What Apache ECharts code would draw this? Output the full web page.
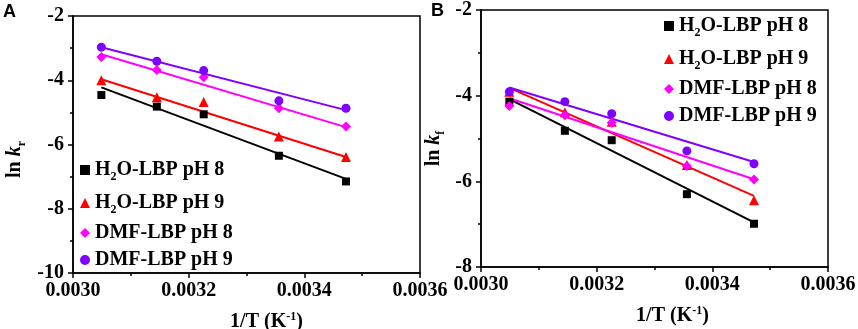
<!DOCTYPE html>
<html>
<head>
<meta charset="utf-8">
<script src="https://cdn.jsdelivr.net/npm/echarts@6/dist/echarts.min.js"></script>
<style>
  html, body { margin: 0; padding: 0; background: #fff; }
  #chart { width: 858px; height: 329px; }
</style>
</head>
<body>
<div id="chart"></div>
<script>
// 1/T (K^-1), same temperatures in both panels
const invT = [0.003049, 0.003145, 0.003226, 0.003356, 0.003472]

const seriesNames = ['H2O-LBP pH 8', 'H2O-LBP pH 9', 'DMF-LBP pH 8', 'DMF-LBP pH 9']
const legendLabels = ['H{sub|2}O-LBP pH 8', 'H{sub|2}O-LBP pH 9', 'DMF-LBP pH 8', 'DMF-LBP pH 9']

// panel A: ln kr
const aH2O8 = [-4.46, -4.82, -5.06, -6.35, -7.15]
const aH2O9 = [-4.00, -4.53, -4.68, -5.75, -6.39]
const aDMF8 = [-3.28, -3.68, -3.91, -4.87, -5.44]
const aDMF9 = [-2.97, -3.41, -3.70, -4.64, -4.87]

// panel B: ln kf
const bH2O8 = [-4.14, -4.82, -5.04, -6.30, -6.99]
const bH2O9 = [-3.91, -4.39, -4.61, -5.62, -6.44]
const bDMF8 = [-4.24, -4.46, -4.63, -5.64, -5.96]
const bDMF9 = [-3.91, -4.14, -4.42, -5.29, -5.59]

// linear fit lines, value at first and last 1/T
const aFitH2O8 = [-4.22, -7.07]
const aFitH2O9 = [-3.97, -6.39]
const aFitDMF8 = [-3.19, -5.46]
const aFitDMF9 = [-2.97, -4.93]
const bFitH2O8 = [-4.08, -6.96]
const bFitH2O9 = [-3.82, -6.34]
const bFitDMF8 = [-4.06, -5.95]
const bFitDMF9 = [-3.81, -5.55]

const colors = ['#000000', '#ff0000', '#ff00ff', '#8000ff']
const symbols = ['rect', 'triangle', 'diamond', 'circle']
const symbolSizes = [8, 10, 10, 9]

const serif = 'Liberation Serif, Times New Roman, serif'

const richText = {
  sub: { fontSize: 12, fontWeight: 'bold', fontFamily: serif, padding: [14, 0, 0, 0] },
  sup: { fontSize: 12, fontWeight: 'bold', fontFamily: serif, padding: [0, 0, 10, 0] },
  it: { fontSize: 20, fontWeight: 'bold', fontStyle: 'italic', fontFamily: serif }
}

// legend rows with a subscript are a bit taller
const legendRich = {
  sub: { fontSize: 12, fontWeight: 'bold', fontFamily: serif, padding: [14, 0, 0, 0], lineHeight: 28 }
}

function xAxisFor(gridIndex, namePadLeft) {
  return {
    gridIndex: gridIndex,
    type: 'value',
    min: 0.003,
    max: 0.0036,
    interval: 0.0002,
    name: '1/T (K{sup|-1})',
    nameLocation: 'middle',
    nameGap: 38,
    nameTextStyle: {
      fontSize: 20, fontWeight: 'bold', fontFamily: serif, color: '#000',
      padding: [0, 0, 0, namePadLeft], rich: richText
    },
    axisLine: { lineStyle: { color: '#000', width: 1.5 } },
    axisTick: { inside: false, length: 5, lineStyle: { color: '#000', width: 1.5 } },
    minorTick: { show: true, splitNumber: 2, length: 3, lineStyle: { color: '#000', width: 1.5 } },
    axisLabel: {
      margin: 8, fontSize: 20, fontWeight: 'bold', fontFamily: serif, color: '#000',
      formatter: v => v.toFixed(4)
    },
    splitLine: { show: false }
  }
}

function yAxisFor(gridIndex, min, name, nameGap, namePadRight) {
  return {
    gridIndex: gridIndex,
    type: 'value',
    min: min,
    max: -2,
    interval: 2,
    name: name,
    nameLocation: 'middle',
    nameGap: nameGap,
    nameTextStyle: {
      fontSize: 20, fontWeight: 'bold', fontFamily: serif, color: '#000',
      padding: [0, namePadRight, 0, 0], rich: richText
    },
    axisLine: { lineStyle: { color: '#000', width: 1.5 } },
    axisTick: { inside: false, length: 5, lineStyle: { color: '#000', width: 1.5 } },
    minorTick: { show: true, splitNumber: 2, length: 3, lineStyle: { color: '#000', width: 1.5 } },
    axisLabel: { margin: 9, fontSize: 20, fontWeight: 'bold', fontFamily: serif, color: '#000' },
    splitLine: { show: false }
  }
}

function scatterSeries(idx, axisIndex, values) {
  return {
    type: 'scatter',
    name: seriesNames[idx],
    xAxisIndex: axisIndex,
    yAxisIndex: axisIndex,
    symbol: symbols[idx],
    symbolSize: symbolSizes[idx],
    itemStyle: { color: colors[idx], opacity: 1 },
    z: 5,
    data: invT.map((x, i) => [x, values[i]])
  }
}

function fitSeries(idx, axisIndex, ends) {
  return {
    type: 'line',
    xAxisIndex: axisIndex,
    yAxisIndex: axisIndex,
    symbol: 'none',
    silent: true,
    lineStyle: { color: colors[idx], width: 2 },
    z: 2,
    data: [[invT[0], ends[0]], [invT[invT.length - 1], ends[1]]]
  }
}

function legendFor(left, top) {
  return {
    orient: 'vertical',
    left: left,
    top: top,
    itemWidth: 10,
    itemHeight: 10,
    itemGap: 5,
    padding: 0,
    selectedMode: false,
    data: seriesNames,
    formatter: name => legendLabels[seriesNames.indexOf(name)],
    textStyle: {
      fontSize: 20, fontWeight: 'bold', fontFamily: serif, color: '#000',
      lineHeight: 22, rich: legendRich
    }
  }
}

const chart = echarts.init(document.getElementById('chart'))

chart.setOption({
  animation: false,
  backgroundColor: '#fff',
  title: [
    { text: 'A', left: 3, top: 3, padding: 0,
      textStyle: { fontSize: 18, fontWeight: 'bold', fontFamily: 'Liberation Sans, Arial', color: '#000' } },
    { text: 'B', left: 431, top: 2, padding: 0,
      textStyle: { fontSize: 18, fontWeight: 'bold', fontFamily: 'Liberation Sans, Arial', color: '#000' } }
  ],
  grid: [
    { left: 73, top: 16, width: 347, height: 257, outerBoundsMode: 'none',
      show: true, borderColor: '#000', borderWidth: 1.5 },
    { left: 481, top: 10, width: 347, height: 257, outerBoundsMode: 'none',
      show: true, borderColor: '#000', borderWidth: 1.5 }
  ],
  legend: [legendFor(80, 156), legendFor(664, 12)],
  xAxis: [xAxisFor(0, 40), xAxisFor(1, 36)],
  yAxis: [
    yAxisFor(0, -10, 'ln {it|k}{sub|r}', 45, 30),
    yAxisFor(1, -8, 'ln {it|k}{sub|f}', 34, 20)
  ],
  series: [
    fitSeries(0, 0, aFitH2O8), fitSeries(1, 0, aFitH2O9), fitSeries(2, 0, aFitDMF8), fitSeries(3, 0, aFitDMF9),
    scatterSeries(0, 0, aH2O8), scatterSeries(1, 0, aH2O9), scatterSeries(2, 0, aDMF8), scatterSeries(3, 0, aDMF9),
    fitSeries(0, 1, bFitH2O8), fitSeries(1, 1, bFitH2O9), fitSeries(2, 1, bFitDMF8), fitSeries(3, 1, bFitDMF9),
    scatterSeries(0, 1, bH2O8), scatterSeries(1, 1, bH2O9), scatterSeries(2, 1, bDMF8), scatterSeries(3, 1, bDMF9)
  ]
})
</script>
</body>
</html>
